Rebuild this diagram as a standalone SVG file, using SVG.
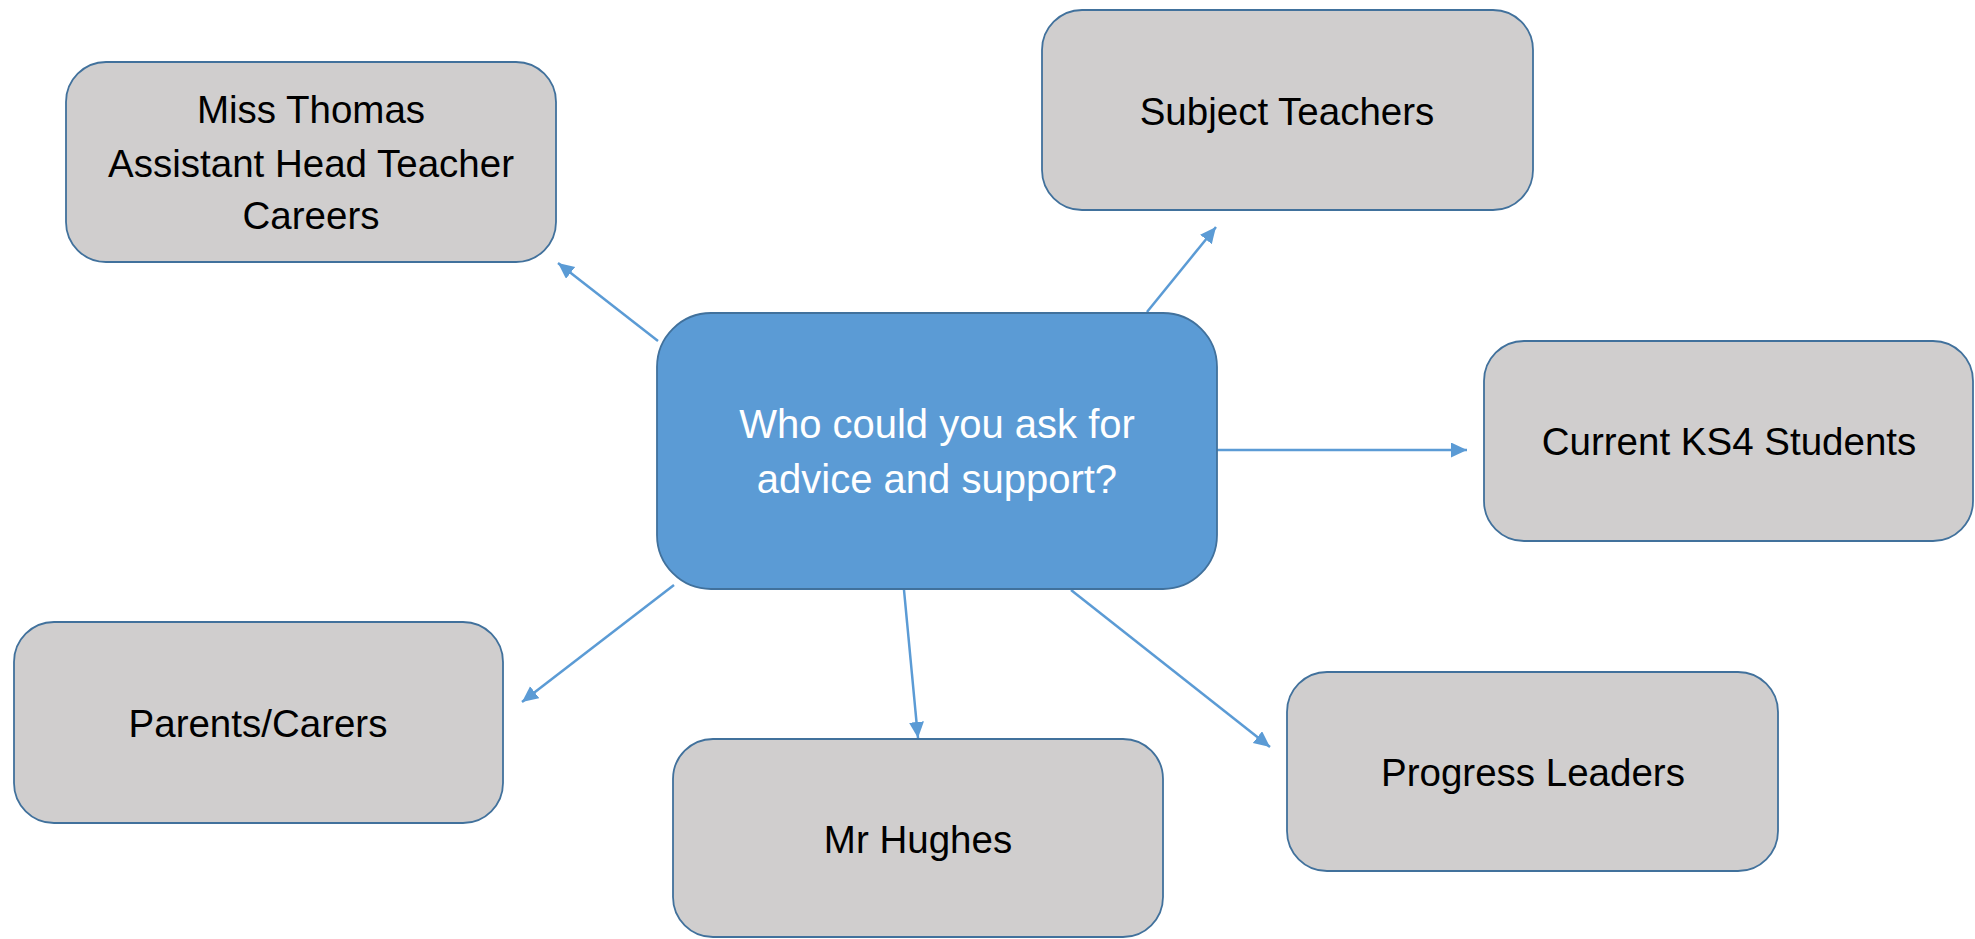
<svg xmlns="http://www.w3.org/2000/svg" width="1975" height="939" viewBox="0 0 1975 939">
<style>
.box{fill:#D0CECE;stroke:#41719C;stroke-width:1.8}
.hub{fill:#5B9BD5;stroke:#41719C;stroke-width:1.8}
.t{font-family:"Liberation Sans",Arial,sans-serif;font-size:38.5px;fill:#000;text-anchor:middle}
.w{font-family:"Liberation Sans",Arial,sans-serif;font-size:40px;fill:#fff;text-anchor:middle}
.c{stroke:#5B9BD5;stroke-width:2.5;fill:none;marker-end:url(#ah)}
</style>
<defs>
<marker id="ah" markerUnits="userSpaceOnUse" markerWidth="17" markerHeight="16" refX="16" refY="7.5" orient="auto">
<path d="M0,0 L16,7.5 L0,15 z" fill="#5B9BD5"/>
</marker>
</defs>
<rect width="1975" height="939" fill="#fff"/>
<g id="connectors">
<line class="c" x1="658" y1="341" x2="558" y2="263"/>
<line class="c" x1="1147" y1="312" x2="1216" y2="227"/>
<line class="c" x1="1217" y1="450" x2="1467" y2="450"/>
<line class="c" x1="674" y1="585" x2="522" y2="702"/>
<line class="c" x1="904" y1="590" x2="918" y2="738"/>
<line class="c" x1="1071" y1="590" x2="1270" y2="747"/>
</g>
<g id="hub">
<rect class="hub" x="657" y="313" width="560" height="276" rx="54" ry="54"/>
<text class="w" x="937" y="438">Who could you ask for</text>
<text class="w" x="937" y="493">advice and support?</text>
</g>
<g id="miss-thomas">
<rect class="box" x="66" y="62" width="490" height="200" rx="40" ry="40"/>
<text class="t" x="311" y="123">Miss Thomas</text>
<text class="t" x="311" y="177">Assistant Head Teacher</text>
<text class="t" x="311" y="229">Careers</text>
</g>
<g id="subject-teachers">
<rect class="box" x="1042" y="10" width="491" height="200" rx="40" ry="40"/>
<text class="t" x="1287" y="125">Subject Teachers</text>
</g>
<g id="current-ks4">
<rect class="box" x="1484" y="341" width="489" height="200" rx="40" ry="40"/>
<text class="t" x="1729" y="455">Current KS4 Students</text>
</g>
<g id="parents-carers">
<rect class="box" x="14" y="622" width="489" height="201" rx="40" ry="40"/>
<text class="t" x="258" y="737">Parents/Carers</text>
</g>
<g id="mr-hughes">
<rect class="box" x="673" y="739" width="490" height="198" rx="40" ry="40"/>
<text class="t" x="918" y="853">Mr Hughes</text>
</g>
<g id="progress-leaders">
<rect class="box" x="1287" y="672" width="491" height="199" rx="40" ry="40"/>
<text class="t" x="1533" y="786">Progress Leaders</text>
</g>
</svg>
